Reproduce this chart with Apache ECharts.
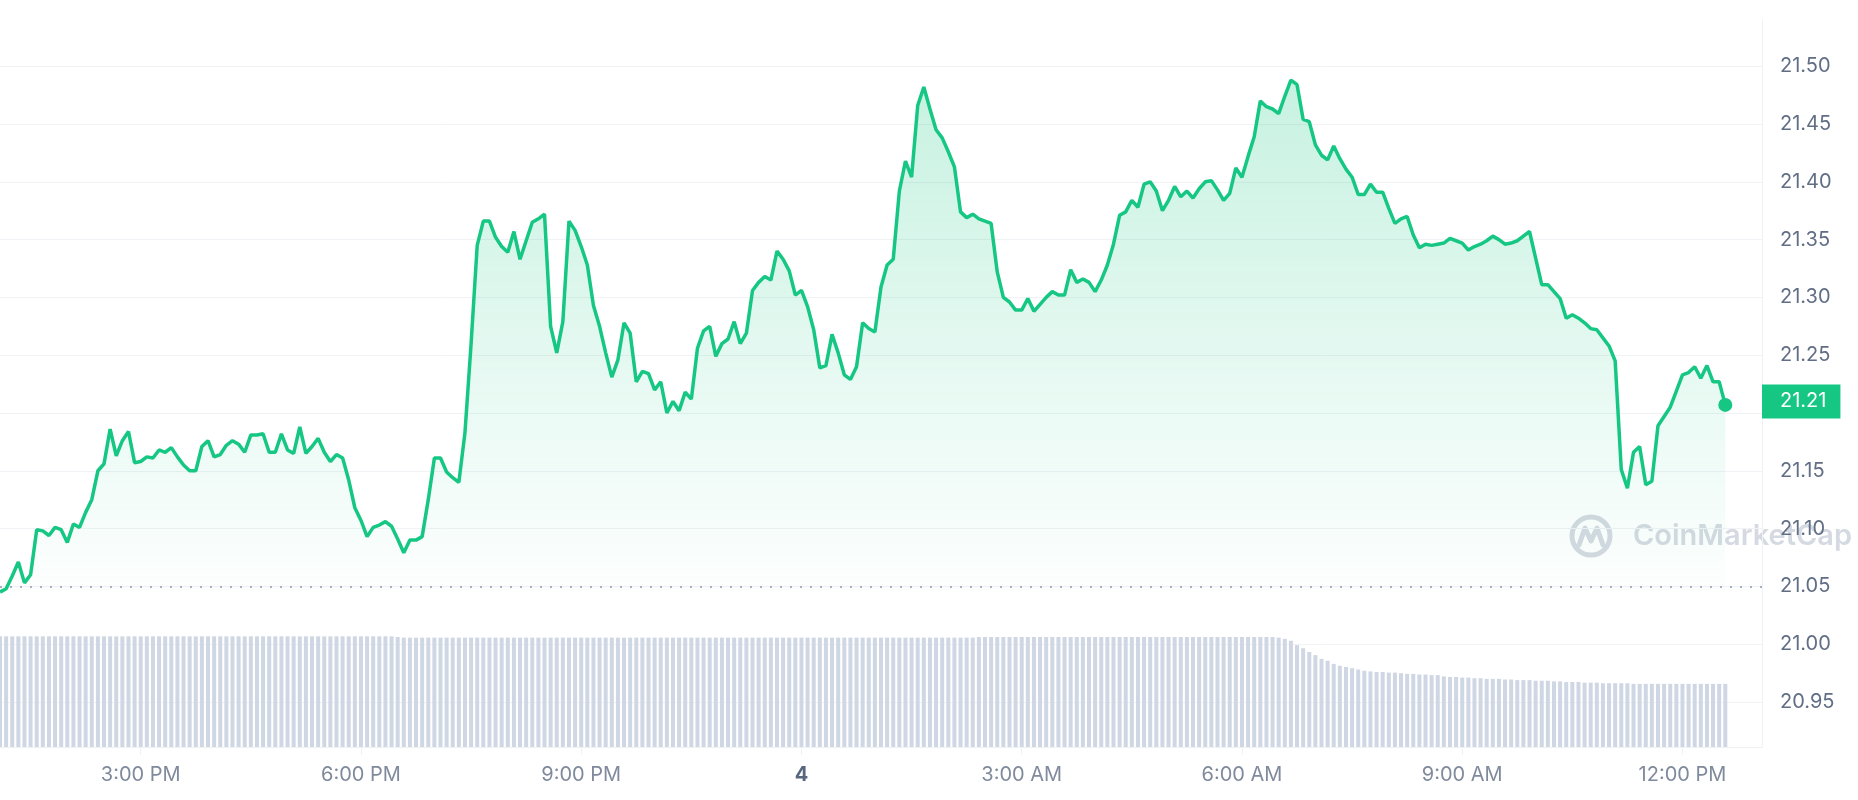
<!DOCTYPE html>
<html>
<head>
<meta charset="utf-8">
<title>Price chart</title>
<script src="https://cdn.jsdelivr.net/npm/echarts@6/dist/echarts.min.js"></script>
<style>
  html, body { margin: 0; padding: 0; background: #fff; }
  #chart { width: 1858px; height: 800px; }
</style>
</head>
<body>
<div id="chart"></div>
<script>
// 5-minute samples, first one at 13:05 on day 3
const startDay = 3;
const startMinute = 13 * 60 + 5;
const stepMinutes = 5;
const slotCount = 289; // 24h window shown on the axis

const prices = [
  21.045, 21.048, 21.059, 21.071, 21.053, 21.060, 21.099, 21.098, 21.094, 21.101,
  21.099, 21.088, 21.104, 21.101, 21.114, 21.125, 21.150, 21.156, 21.186, 21.163,
  21.176, 21.184, 21.157, 21.158, 21.162, 21.161, 21.168, 21.166, 21.170, 21.162,
  21.155, 21.150, 21.150, 21.171, 21.176, 21.162, 21.164, 21.172, 21.176, 21.173,
  21.166, 21.181, 21.181, 21.182, 21.166, 21.166, 21.182, 21.168, 21.165, 21.188,
  21.165, 21.171, 21.178, 21.166, 21.158, 21.164, 21.161, 21.142, 21.118, 21.107,
  21.093, 21.101, 21.103, 21.106, 21.102, 21.091, 21.079, 21.090, 21.090, 21.093,
  21.125, 21.161, 21.161, 21.149, 21.144, 21.140, 21.183, 21.260, 21.345, 21.366,
  21.366, 21.352, 21.344, 21.339, 21.357, 21.333, 21.349, 21.365, 21.368, 21.372,
  21.275, 21.252, 21.279, 21.366, 21.358, 21.344, 21.328, 21.293, 21.275, 21.252,
  21.231, 21.246, 21.278, 21.269, 21.227, 21.236, 21.234, 21.220, 21.227, 21.200,
  21.210, 21.202, 21.218, 21.212, 21.256, 21.271, 21.275, 21.249, 21.260, 21.264,
  21.279, 21.260, 21.269, 21.306, 21.313, 21.318, 21.315, 21.340, 21.333, 21.323,
  21.302, 21.306, 21.292, 21.272, 21.239, 21.241, 21.268, 21.252, 21.233, 21.229,
  21.240, 21.278, 21.273, 21.270, 21.309, 21.328, 21.333, 21.392, 21.418, 21.404,
  21.466, 21.482, 21.463, 21.445, 21.438, 21.426, 21.413, 21.374, 21.369, 21.372,
  21.368, 21.366, 21.364, 21.322, 21.300, 21.296, 21.289, 21.289, 21.299, 21.288,
  21.294, 21.300, 21.305, 21.302, 21.302, 21.324, 21.313, 21.316, 21.313, 21.305,
  21.315, 21.328, 21.346, 21.371, 21.374, 21.384, 21.378, 21.398, 21.400, 21.392,
  21.375, 21.384, 21.396, 21.387, 21.392, 21.386, 21.394, 21.400, 21.401, 21.393,
  21.384, 21.390, 21.412, 21.404, 21.422, 21.439, 21.470, 21.465, 21.463, 21.459,
  21.474, 21.488, 21.484, 21.454, 21.452, 21.432, 21.423, 21.419, 21.431, 21.420,
  21.411, 21.404, 21.389, 21.389, 21.398, 21.391, 21.391, 21.377, 21.364, 21.368,
  21.370, 21.354, 21.343, 21.346, 21.345, 21.346, 21.347, 21.351, 21.349, 21.347,
  21.341, 21.344, 21.346, 21.349, 21.353, 21.350, 21.346, 21.347, 21.349, 21.353,
  21.357, 21.334, 21.311, 21.311, 21.305, 21.299, 21.282, 21.285, 21.282, 21.278,
  21.273, 21.272, 21.265, 21.258, 21.245, 21.151, 21.135, 21.166, 21.171, 21.138,
  21.141, 21.189, 21.197, 21.205, 21.219, 21.233, 21.235, 21.240, 21.230, 21.241,
  21.227, 21.227, 21.207
];

// rolling 24h volume, $M
const volumes = [
  177, 177, 177, 177, 177, 177, 177, 177, 177, 177,
  177, 177, 177, 177, 177, 177, 177, 177, 177, 177,
  177, 177, 177, 177, 177, 177, 177, 177, 177, 177,
  177, 177, 177, 177, 177, 177, 177, 177, 177, 177,
  177, 177, 177, 177, 177, 177, 177, 177, 177, 177,
  177, 177, 177, 177, 177, 177, 177, 177, 177, 177,
  177, 177, 177, 177, 177, 176, 175, 175, 175, 175,
  175, 175, 175, 175, 175, 175, 175, 175, 175, 175,
  175, 175, 175, 175, 175, 175, 175, 175, 175, 175,
  175, 175, 175, 175, 175, 175, 175, 175, 175, 175,
  175, 175, 175, 175, 175, 175, 175, 175, 175, 175,
  175, 175, 175, 175, 175, 175, 175, 175, 175, 175,
  175, 175, 175, 175, 175, 175, 175, 175, 175, 175,
  175, 175, 175, 175, 175, 175, 175, 175, 175, 175,
  175, 175, 175, 175, 175, 175, 175, 175, 175, 175,
  175, 175, 175, 175, 175, 175, 175, 175, 175, 175,
  176, 176, 176, 176, 176, 176, 176, 176, 176, 176,
  176, 176, 176, 176, 176, 176, 176, 176, 176, 176,
  176, 176, 176, 176, 176, 176, 176, 176, 176, 176,
  176, 176, 176, 176, 176, 176, 176, 176, 176, 176,
  176, 176, 176, 176, 176, 176, 176, 176, 176, 175,
  173, 170, 163, 158, 152, 147, 141, 138, 133, 130,
  128, 126, 124, 122, 121, 120, 120, 119, 119, 118,
  117, 117, 116, 116, 115, 115, 113, 112, 112, 111,
  111, 110, 110, 109, 109, 109, 108, 108, 107, 107,
  107, 106, 106, 106, 105, 105, 104, 104, 104, 103,
  103, 103, 102, 102, 102, 102, 102, 101, 101, 101,
  101, 101, 101, 101, 101, 101, 101, 101, 101, 101,
  101, 101, 101
];

const tickTimes = ['3 15:00', '3 18:00', '3 21:00', '4 00:00', '4 03:00', '4 06:00', '4 09:00', '4 12:00'];
const tickLabels = ['3:00 PM', '6:00 PM', '9:00 PM', '4', '3:00 AM', '6:00 AM', '9:00 AM', '12:00 PM'];

function pad(n) {
  return n < 10 ? '0' + n : '' + n;
}

const slots = [];
for (let i = 0; i < slotCount; i++) {
  const m = startMinute + i * stepMinutes;
  const day = startDay + Math.floor(m / 1440);
  const mm = m % 1440;
  slots.push(day + ' ' + pad(Math.floor(mm / 60)) + ':' + pad(mm % 60));
}

const isTick = (index, value) => tickTimes.indexOf(value) >= 0;
const green = '#16c784';
const last = prices.length - 1;
const lastPrice = prices[last];

const chart = echarts.init(document.getElementById('chart'));
chart.setOption({
  animation: false,
  textStyle: { fontFamily: 'Inter' },
  grid: { left: 0, right: 96, top: 20, bottom: 53 },
  xAxis: {
    type: 'category',
    data: slots,
    boundaryGap: false,
    axisLine: { lineStyle: { color: '#eff2f5', width: 1 } },
    axisTick: { show: true, interval: isTick, length: 8, lineStyle: { color: '#eff2f5' } },
    axisLabel: {
      interval: isTick,
      margin: 18,
      fontSize: 20,
      color: '#808a9d',
      formatter: value => {
        const label = tickLabels[tickTimes.indexOf(value)];
        return label === '4' ? '{day|4}' : label;
      },
      rich: { day: { fontSize: 20, fontWeight: 'bold', color: '#58667e' } }
    }
  },
  yAxis: [
    {
      type: 'value',
      position: 'right',
      min: 20.911,
      max: 21.54,
      splitNumber: 13,
      axisLine: { show: true, lineStyle: { color: '#eff2f5' } },
      axisTick: { show: false },
      splitLine: { showMinLine: false, showMaxLine: false, lineStyle: { color: '#f0f2f5' } },
      axisLabel: {
        showMinLabel: false,
        showMaxLabel: false,
        margin: 18,
        fontSize: 20,
        color: '#616e85',
        // the current price tag sits on top of the nearest tick label
        formatter: v => (Math.abs(v - lastPrice) < 0.02 ? '' : v.toFixed(2))
      }
    },
    { type: 'value', min: 0, max: 1163, show: false }
  ],
  graphic: [
    {
      type: 'group',
      z: 0,
      children: [
        { type: 'circle', shape: { cx: 1591, cy: 536, r: 19 }, style: { fill: 'none', stroke: '#d5d9e1', lineWidth: 5 } },
        { type: 'polyline', shape: { points: [[1579, 545], [1585, 528], [1591, 541], [1597, 528], [1603, 545]] },
          style: { fill: 'none', stroke: '#d5d9e1', lineWidth: 5, lineJoin: 'round', lineCap: 'round' } },
        { type: 'text', x: 1633, y: 536, style: { text: 'CoinMarketCap', font: '600 29px Inter', fill: '#d5d9e1', verticalAlign: 'middle' } }
      ]
    }
  ],
  series: [
    {
      type: 'bar',
      yAxisIndex: 1,
      data: volumes,
      barWidth: 4,
      silent: true,
      itemStyle: { color: '#cfd6e4' }
    },
    {
      type: 'line',
      data: prices,
      showSymbol: false,
      lineStyle: { color: green, width: 3.5 },
      itemStyle: { color: green },
      areaStyle: {
        origin: prices[0],
        color: new echarts.graphic.LinearGradient(0, 0, 0, 1, [
          { offset: 0, color: 'rgba(22,199,132,0.34)' },
          { offset: 1, color: 'rgba(22,199,132,0.01)' }
        ])
      },
      markLine: {
        silent: true,
        symbol: ['none', 'none'],
        data: [
          { yAxis: prices[0], lineStyle: { type: [2, 8], color: '#a6b0c3', width: 2 }, label: { show: false } },
          {
            yAxis: lastPrice,
            lineStyle: { color: 'rgba(0,0,0,0)', width: 0 },
            label: {
              show: true,
              position: 'end',
              distance: 0,
              formatter: lastPrice.toFixed(2),
              backgroundColor: green,
              color: '#fff',
              fontSize: 20,
              fontFamily: 'Inter',
              lineHeight: 22,
              padding: [6, 14, 6, 18]
            }
          }
        ]
      },
      markPoint: {
        silent: true,
        symbol: 'circle',
        symbolSize: 14,
        itemStyle: { color: green },
        label: { show: false },
        data: [{ coord: [last, lastPrice] }]
      }
    }
  ]
});
</script>
</body>
</html>
